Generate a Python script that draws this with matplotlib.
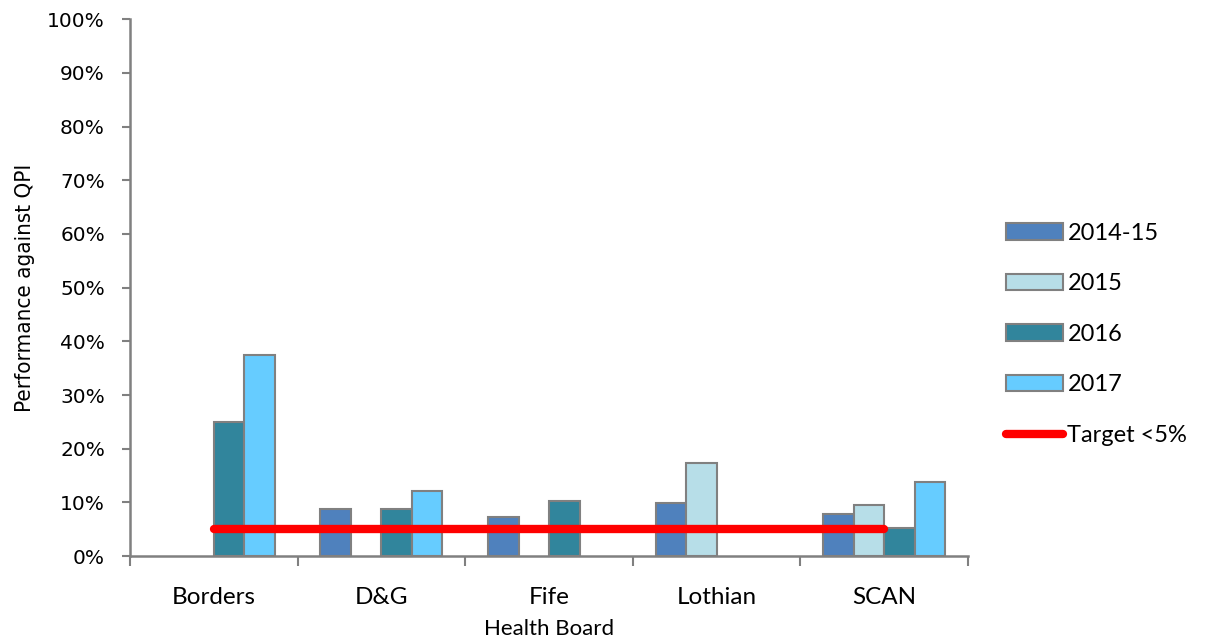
import numpy as np
import matplotlib.pyplot as plt
from matplotlib.ticker import PercentFormatter

boards = ["Borders", "D&G", "Fife", "Lothian", "SCAN"]
years = ["2014-15", "2015", "2016", "2017"]
perf_1415 = [0.0, 8.7, 7.3, 9.9, 7.9]
perf_2015 = [0.0, 0.0, 0.0, 17.3, 9.5]
perf_2016 = [25.0, 8.7, 10.2, 0.0, 5.2]
perf_2017 = [37.5, 12.2, 0.0, 0.0, 13.8]
target = [5, 5, 5, 5, 5]

series = [perf_1415, perf_2015, perf_2016, perf_2017]
colors = ["#4F81BD", "#B7DEE8", "#31859C", "#66CCFF"]

fig = plt.figure(figsize=(12.07, 6.4), dpi=100)
ax = fig.add_axes([0.1077, 0.131, 0.6943, 0.839])

x = np.arange(len(boards))
w = 0.182
handles = []
for i, (vals, c, lab) in enumerate(zip(series, colors, years)):
    vals = np.asarray(vals)
    keep = vals > 0  # empty results get no bar outline on the axis
    bars = ax.bar(x[keep] + (i - 1.5) * w, vals[keep], width=w, color=c,
                  edgecolor="#808080", linewidth=1.5, label=lab, zorder=2)
    handles.append(bars)

line, = ax.plot(x, target, color="#FF0000", linewidth=6,
                solid_capstyle="round", label="Target <5%", zorder=3)
handles.append(line)

ax.set_xlim(-0.5, len(boards) - 0.5)
ax.set_ylim(0, 100)
ax.set_yticks(np.arange(0, 101, 10))
ax.yaxis.set_major_formatter(PercentFormatter(decimals=0))

# category labels centred, tick marks on the boundaries
ax.set_xticks(x)
ax.set_xticklabels(boards, fontsize=17.5, family="Lato")
ax.tick_params(axis="x", length=0, pad=22)
ax.set_xticks(np.arange(-0.5, len(boards)), minor=True)
ax.tick_params(axis="x", which="minor", length=7, width=1.5, color="#808080")
ax.tick_params(axis="y", length=6, width=1.5, color="#808080",
               labelsize=14.5, pad=12)

for s in ["top", "right"]:
    ax.spines[s].set_visible(False)
for s in ["left", "bottom"]:
    ax.spines[s].set_color("#808080")
    ax.spines[s].set_linewidth(1.8)

ax.set_xlabel("Health Board", fontsize=16, family="Lato", labelpad=8)
ax.set_ylabel("Performance against QPI", fontsize=16, fontstretch="condensed",
              labelpad=9)

ax.legend(handles=handles, loc="center left", bbox_to_anchor=(1.02, 0.413),
          frameon=False, prop={"family": "Lato", "size": 17},
          handlelength=2.4, handleheight=0.7, labelspacing=1.25,
          handletextpad=0.2)

fig.savefig("out.png", dpi=100)
